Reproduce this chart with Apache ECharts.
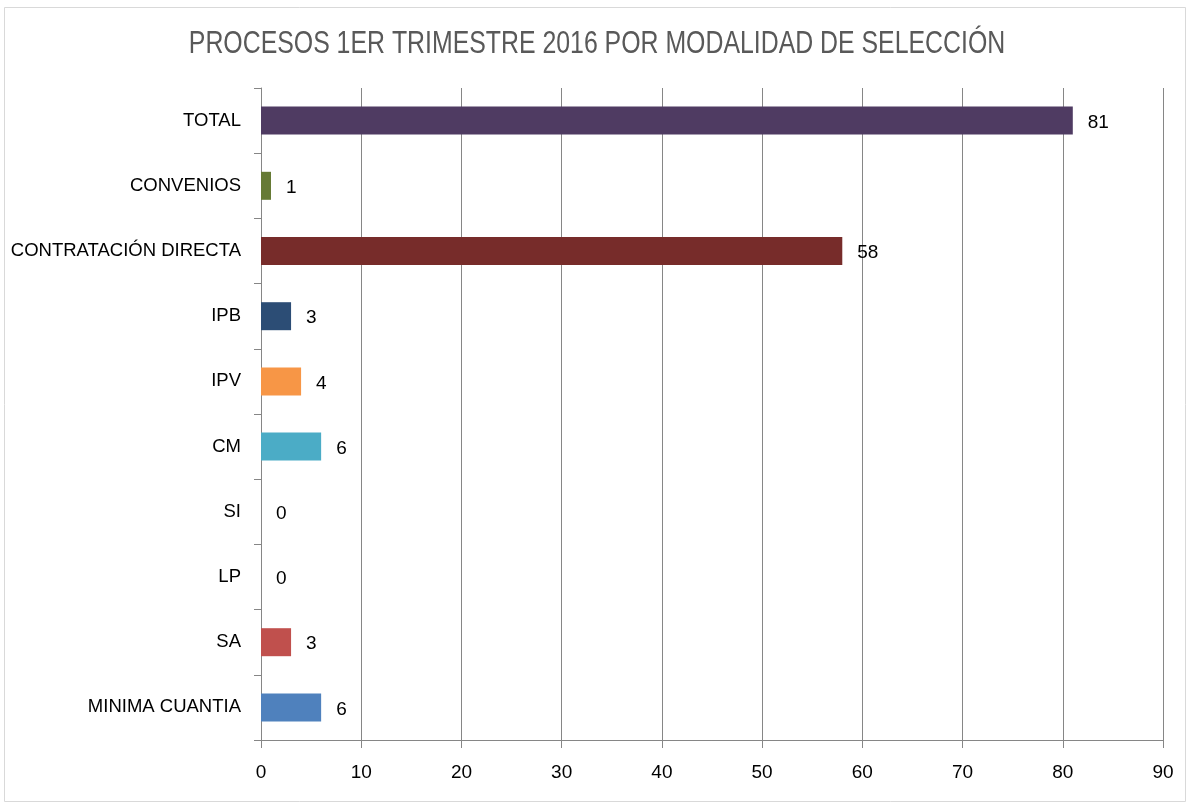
<!DOCTYPE html>
<html>
<head>
<meta charset="utf-8">
<script src="https://cdn.jsdelivr.net/npm/echarts@6/dist/echarts.min.js"></script>
<style>
  html, body { margin: 0; padding: 0; background: #fff; }
  #chart { width: 1189px; height: 803px; }
</style>
</head>
<body>
<div id="chart"></div>
<script>
// Categories, top to bottom
const categories = ['TOTAL', 'CONVENIOS', 'CONTRATACIÓN DIRECTA', 'IPB', 'IPV', 'CM', 'SI', 'LP', 'SA', 'MINIMA CUANTIA'];
// Number of processes per selection mode
const values = [81, 1, 58, 3, 4, 6, 0, 0, 3, 6];
// Bar fill per category
const colors = ['#4f3b62', '#667a35', '#772c2a', '#2c4d75', '#f79646', '#4bacc6', '#8064a2', '#9bbb59', '#c0504d', '#4f81bd'];
// Value axis ticks
const xTicks = { min: 0, max: 90, interval: 10 };
const chartTitle = 'PROCESOS 1ER TRIMESTRE 2016 POR MODALIDAD DE SELECCIÓN';

const font = '"Liberation Sans", Arial, sans-serif';
const gridColor = '#868686';

const chart = echarts.init(document.getElementById('chart'), null, { renderer: 'canvas' });
chart.setOption({
  backgroundColor: '#fff',
  animation: false,
  graphic: [{
    type: 'rect',
    shape: { x: 4.5, y: 7.5, width: 1181, height: 794 },
    style: { fill: 'none', stroke: '#d9d9d9', lineWidth: 1 },
    silent: true
  }, {
    // condensed title
    type: 'text',
    x: 597,
    y: 45,
    scaleX: 0.815,
    style: {
      text: chartTitle,
      fontFamily: font,
      fontSize: 30.5,
      fill: '#595959',
      textAlign: 'center',
      textVerticalAlign: 'middle'
    },
    silent: true
  }],
  grid: { left: 261, right: 26, top: 88, bottom: 63, containLabel: false },
  xAxis: {
    type: 'value',
    min: xTicks.min, max: xTicks.max, interval: xTicks.interval,
    axisLine: { show: true, lineStyle: { color: gridColor } },
    axisTick: { show: true, length: 8, lineStyle: { color: gridColor } },
    splitLine: { show: true, lineStyle: { color: gridColor, width: 1 } },
    axisLabel: { margin: 23, fontFamily: font, fontSize: 19, color: '#000' }
  },
  yAxis: {
    type: 'category',
    data: categories,
    inverse: true,
    axisLine: { show: true, lineStyle: { color: gridColor } },
    axisTick: { show: true, length: 7, lineStyle: { color: gridColor } },
    axisLabel: { margin: 20, fontFamily: font, fontSize: 18.5, color: '#000' }
  },
  series: [{
    type: 'bar',
    data: values.map((v, i) => ({ value: v, itemStyle: { color: colors[i] } })),
    barWidth: 28,
    label: {
      show: true,
      position: 'right',
      distance: 15,
      fontFamily: font,
      fontSize: 19,
      color: '#000',
      offset: [0, 2]
    }
  }]
});
</script>
</body>
</html>
